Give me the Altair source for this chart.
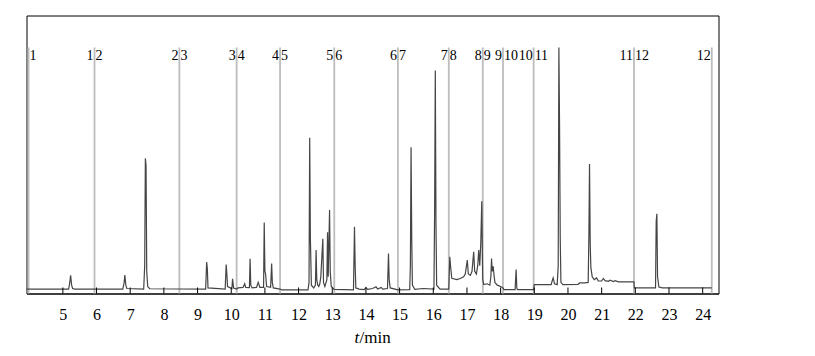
import altair as alt
import pandas as pd

# chromatogram trace (time in min, relative intensity)
trace_t = [3.92, 5.17, 5.20, 5.23, 5.26, 5.29, 5.35,
           6.78, 6.82, 6.84, 6.87, 6.90, 7.40, 7.43, 7.45, 7.47, 7.49, 7.52, 7.58,
           9.24, 9.27, 9.29, 9.31, 9.82, 9.85, 9.87, 9.89, 10.02, 10.04, 10.07, 10.16,
           10.20, 10.35, 10.40, 10.43, 10.54, 10.56, 10.58, 10.62, 10.75, 10.80, 10.85, 10.96, 10.98, 11.00, 11.02, 11.05, 11.17, 11.20, 11.22, 11.25, 11.45,
           11.50, 12.28, 12.31, 12.33, 12.35, 12.38, 12.45, 12.50, 12.52, 12.54, 12.57, 12.60, 12.63, 12.66, 12.72, 12.74, 12.78, 12.84, 12.86, 12.88, 12.92, 12.94, 12.97, 13.06,
           13.63, 13.66, 13.68, 13.70, 13.80, 13.95, 14.00, 14.05, 14.20, 14.30, 14.35, 14.45, 14.50, 14.64, 14.67, 14.69, 14.72, 14.95,
           15.30, 15.32, 15.34, 15.36, 15.38, 15.45, 15.70, 16.02, 16.04, 16.06, 16.08, 16.10, 16.20, 16.46,
           16.47, 16.49, 16.52, 16.55, 16.70, 16.80, 16.90, 16.95, 17.01, 17.04, 17.10, 17.15, 17.20, 17.23, 17.28, 17.32, 17.35, 17.38, 17.41, 17.44, 17.46, 17.47,
           17.50, 17.60, 17.68, 17.71, 17.73, 17.75, 17.78, 17.80, 17.83, 17.90, 18.00, 18.07,
           18.10, 18.43, 18.46, 18.48, 18.50, 18.98,
           19.00, 19.50, 19.53, 19.56, 19.60, 19.68, 19.71, 19.73, 19.75, 19.77, 19.79, 19.85, 20.30, 20.35, 20.50, 20.60, 20.62, 20.64, 20.66, 20.68, 20.72, 20.78, 20.85, 20.90, 21.00, 21.05, 21.10, 21.20, 21.25, 21.35, 21.40, 21.50, 21.96,
           21.97, 22.60, 22.62, 22.64, 22.66, 22.70, 22.80, 24.27]
trace_i = [1.6, 1.6, 3.5, 6.5, 3.0, 1.8, 1.6,
           1.6, 4.0, 6.6, 3.0, 1.8, 1.6, 10.0, 48.6, 46.0, 8.0, 2.5, 1.7,
           1.6, 11.3, 9.0, 2.0, 1.6, 10.4, 7.0, 2.5, 1.8, 5.3, 2.0, 1.6,
           2.0, 2.2, 3.5, 2.2, 2.1, 12.5, 3.0, 2.0, 2.2, 4.0, 2.2, 2.2, 25.5, 8.0, 7.0, 2.5, 2.2, 10.8, 4.0, 2.0, 1.6,
           1.3, 1.3, 4.0, 56.0, 20.0, 3.0, 2.0, 3.0, 15.6, 5.0, 3.0, 2.5, 3.5, 6.0, 19.7, 4.0, 2.5, 5.0, 22.0, 6.0, 30.0, 8.0, 2.5, 1.5,
           1.3, 24.0, 10.0, 2.0, 1.6, 1.4, 2.2, 1.5, 1.8, 2.4, 1.6, 2.2, 1.6, 1.8, 14.4, 5.0, 2.0, 1.3,
           1.4, 10.0, 52.6, 20.0, 3.0, 1.5, 1.8, 1.6, 30.0, 80.2, 25.0, 3.0, 1.6, 1.6,
           5.4, 13.2, 9.0, 5.5, 5.0, 5.4, 6.0, 7.0, 12.0, 7.0, 6.5, 8.0, 15.0, 8.0, 7.0, 10.0, 15.6, 10.0, 18.0, 33.2, 12.0, 5.0,
           3.2, 3.5, 3.0, 6.0, 12.6, 8.0, 9.8, 7.0, 4.0, 3.0, 2.5, 2.0,
           1.4, 1.4, 8.6, 2.0, 1.4, 1.4,
           3.2, 3.2, 4.5, 5.6, 3.5, 3.2, 10.0, 88.5, 60.0, 20.0, 4.0, 3.2, 3.3, 3.8, 3.8, 4.0, 20.0, 46.6, 18.0, 9.3, 6.0, 5.0, 5.6, 4.5, 4.5, 5.4, 4.6, 4.4, 4.8, 4.3, 4.6, 4.2, 4.2,
           2.0, 2.0, 26.0, 28.7, 6.0, 2.3, 2.0, 2.0]

# segment boundaries and their labels
bound_t = [3.98, 5.94, 8.46, 10.16, 11.45, 13.06, 14.95, 16.46, 17.47, 18.07, 18.98, 21.96, 24.27]
left_lab = ["", "1", "2", "3", "4", "5", "6", "7", "8", "9", "10", "11", "12"]
right_lab = ["1", "2", "3", "4", "5", "6", "7", "8", "9", "10", "11", "12", ""]
line_top = 88.5
tick_vals = list(range(5, 25))

W, H = 692, 278
xdom = [3.92, 24.47]
FONT = "Liberation Serif"

tr = pd.DataFrame({"t": trace_t, "i": trace_i, "o": range(len(trace_t))})
bd = pd.DataFrame({"t": bound_t, "top": [line_top] * len(bound_t), "bot": [0] * len(bound_t),
                   "L": left_lab, "R": right_lab})
tk = pd.DataFrame({"t": tick_vals})

xs = alt.Scale(domain=xdom, nice=False, zero=False)
ys = alt.Scale(domain=[0, 100], nice=False)

xaxis = alt.Axis(values=tick_vals, tickSize=0, ticks=False, labelPadding=13, labelFont=FONT,
                 labelFontSize=16, labelColor="black", domainColor="black",
                 domainWidth=1, grid=False, title=None, labelFlush=False,
                 labelOverlap=False, labelBound=False)

X = alt.X("t:Q", scale=xs, axis=xaxis)

rules = alt.Chart(bd).mark_rule(color="#bdbdbd", strokeWidth=1.8).encode(
    x=X,
    y=alt.Y("top:Q", scale=ys, axis=None),
    y2="bot:Q",
)

line = alt.Chart(tr).mark_line(color="#454545", strokeWidth=1.2, interpolate="linear").encode(
    x=X,
    y=alt.Y("i:Q", scale=ys, axis=None),
    order="o:Q",
)

lab_r = alt.Chart(bd).mark_text(align="left", baseline="middle", dx=1, font=FONT,
                                fontSize=14, color="black").encode(
    x=X, y=alt.value(40), text="R:N")
lab_l = alt.Chart(bd).mark_text(align="right", baseline="middle", dx=-1, font=FONT,
                                fontSize=14, color="black").encode(
    x=X, y=alt.value(40), text="L:N")

ticks = alt.Chart(tk).mark_rule(color="black", strokeWidth=1).encode(
    x=X, y=alt.value(H - 6), y2=alt.value(H))

title_t = alt.Chart(pd.DataFrame({"s": ["t"]})).mark_text(
    align="left", baseline="middle", font=FONT, fontSize=17, fontStyle="italic", color="black"
).encode(x=alt.value(328), y=alt.value(322), text="s:N")
title_rest = alt.Chart(pd.DataFrame({"s": ["/min"]})).mark_text(
    align="left", baseline="middle", font=FONT, fontSize=17, color="black"
).encode(x=alt.value(333), y=alt.value(322), text="s:N")

chart = alt.layer(rules, line, lab_l, lab_r, ticks, title_t, title_rest).properties(
    width=W, height=H,
    background="white",
    autosize=alt.AutoSizeParams(type="none"),
    padding={"left": 26.5, "top": 15.5, "right": 96.5, "bottom": 62.5},
).configure_view(stroke="black", strokeWidth=1).configure_axisX(
    labelOverlap=False, labelFont=FONT
)

chart.save("out.html", embed_options={"renderer": "svg", "actions": False})
